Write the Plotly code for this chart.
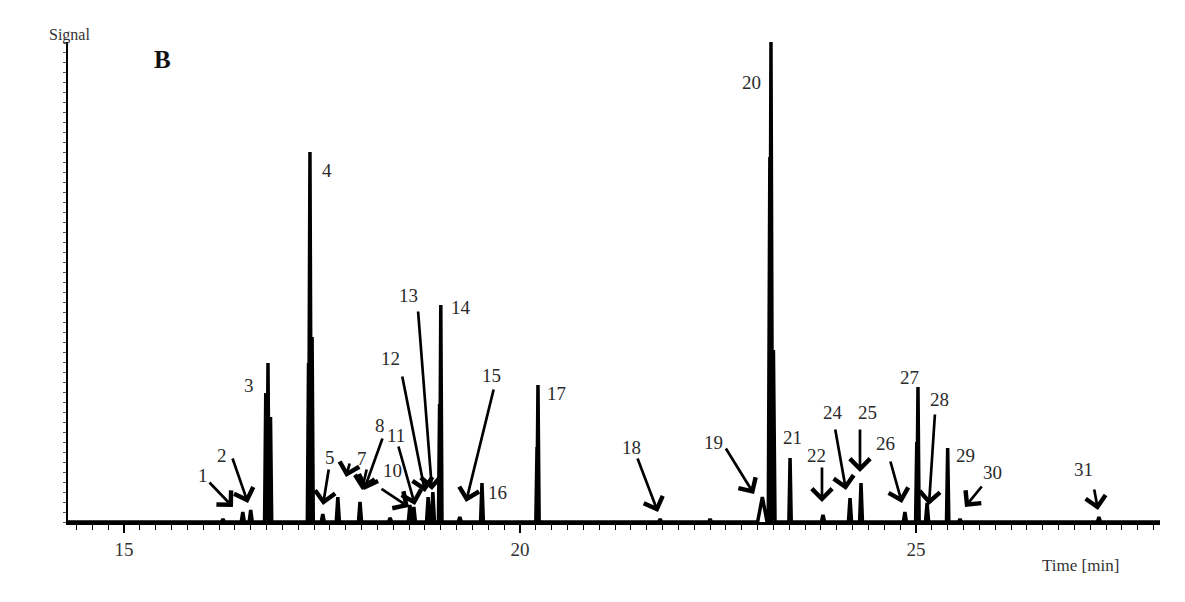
import plotly.graph_objects as go

# ---- data (retention time in min, signal in arbitrary units) ----
peak_time = [16.25, 16.50, 16.60, 16.79, 16.818, 16.85, 17.33, 17.348, 17.375, 17.51,
             17.70, 17.98, 18.36, 18.61, 18.66, 18.84, 18.90, 18.985, 19.00, 19.24,
             19.52, 20.215, 20.227, 21.77, 22.40, 23.06, 23.155, 23.169, 23.20, 23.41,
             23.826, 24.167, 24.306, 24.86, 25.01, 25.025, 25.14, 25.40, 25.556, 27.31]
peak_height = [3, 10, 12, 129, 159, 105, 159, 370, 185, 8,
               25, 20, 4, 17, 15, 25, 30, 118, 217, 5,
               39, 75, 137, 3, 3, 25, 365, 480, 172, 64,
               7, 24, 39, 10, 80, 135, 19, 74, 3, 5]
peak_width = [0.02, 0.02, 0.02, 0.015, 0.015, 0.015, 0.015, 0.018, 0.015, 0.02,
              0.02, 0.02, 0.02, 0.02, 0.02, 0.02, 0.02, 0.015, 0.015, 0.02,
              0.018, 0.015, 0.015, 0.02, 0.02, 0.06, 0.02, 0.02, 0.02, 0.015,
              0.02, 0.02, 0.018, 0.02, 0.015, 0.015, 0.02, 0.015, 0.02, 0.02]
time_range = [14.293, 28.081]
major_ticks = [15, 20, 25]

# peak labels: text, label position (time, signal)
label_text = ["1", "2", "3", "4", "5", "7", "8", "10", "11", "12", "13", "14", "15", "16",
              "17", "18", "19", "20", "21", "22", "24", "25", "26", "27", "28", "29", "30", "31"]
label_t = [15.997, 16.237, 16.578, 17.563, 17.601, 18.005, 18.232, 18.384, 18.434, 18.371,
           18.586, 19.255, 19.646, 19.722, 20.467, 21.414, 22.449, 22.929, 23.447, 23.750,
           23.952, 24.394, 24.621, 24.912, 25.303, 25.619, 25.960, 27.109]
label_s = [47, 67, 137, 352, 65, 64, 97, 52, 87, 164,
           227, 215, 147, 30, 129, 75, 80, 440, 85, 67,
           110, 110, 79, 145, 123, 67, 50, 53]

# arrows: tail (time, signal) -> head (time, signal)
arrow_tail_t = [16.061, 16.364, 17.588, 17.854, 18.068, 18.270, 18.232, 18.460, 18.510, 18.712,
                19.672, 21.477, 22.588, 23.813, 23.977, 24.293, 24.672, 25.240, 25.846, 27.247]
arrow_tail_s = [41, 65, 54, 60, 54, 85, 34, 77, 147, 212,
                134, 65, 75, 56, 94, 94, 62, 109, 37, 34]
arrow_head_t = [16.376, 16.566, 17.513, 17.803, 18.005, 18.030, 18.598, 18.674, 18.801, 18.889,
                19.318, 21.742, 22.955, 23.813, 24.116, 24.293, 24.823, 25.164, 25.619, 27.298]
arrow_head_s = [15, 19, 17, 45, 32, 32, 15, 17, 30, 32,
                20, 10, 28, 20, 32, 50, 19, 17, 15, 12]

# ---- build chromatogram trace from the peak table ----
xs, ys = [time_range[0]], [0]
for t, h, w in sorted(zip(peak_time, peak_height, peak_width)):
    xs += [t - w, t, t + w]
    ys += [0, h, 0]
xs.append(time_range[1])
ys.append(0)

fig = go.Figure()
fig.add_trace(go.Scatter(x=xs, y=ys, mode="lines",
                         line=dict(color="black", width=3.5), hoverinfo="skip",
                         showlegend=False))

serif = "Liberation Serif, Times New Roman, serif"
ann = []
for txt, t, s in zip(label_text, label_t, label_s):
    ann.append(dict(x=t, y=s, xref="x", yref="y", text=txt, showarrow=False,
                    font=dict(family=serif, size=19, color="#2a2a2a")))
for tt, ts, ht, hs in zip(arrow_tail_t, arrow_tail_s, arrow_head_t, arrow_head_s):
    ann.append(dict(x=ht, y=hs, ax=tt, ay=ts, xref="x", yref="y", axref="x", ayref="y",
                    text="", showarrow=True, arrowhead=4, arrowsize=1.45, arrowwidth=2.7,
                    arrowcolor="black", standoff=0, startstandoff=0))
ann.append(dict(x=47, y=24, xref="paper", yref="paper", text="Signal", showarrow=False,
                font=dict(family=serif, size=16, color="#333")))
ann.append(dict(x=152, y=44, xref="paper", yref="paper", text="<b>B</b>", showarrow=False,
                font=dict(family=serif, size=25, color="#111")))
ann.append(dict(x=1121, y=577, xref="paper", yref="paper", text="Time [min]", showarrow=False,
                font=dict(family=serif, size=17, color="#333")))

# convert the three pixel-placed texts to paper coordinates
L, R, T, B = 68, 25, 42, 80
W, H = 1185, 602
for a in ann[-3:]:
    a["x"] = (a["x"] - L) / (W - L - R)
    a["y"] = 1 - (a["y"] - T) / (H - T - B)

fig.update_layout(
    width=W, height=H, margin=dict(l=L, r=R, t=T, b=B),
    paper_bgcolor="white", plot_bgcolor="white",
    annotations=ann,
    xaxis=dict(range=time_range, showgrid=False, zeroline=False, showline=True,
               linecolor="black", linewidth=2.5, tickvals=major_ticks, ticks="outside",
               ticklen=8, tickwidth=1.5, tickcolor="black", ticklabelstandoff=0,
               tickfont=dict(family=serif, size=19, color="#333"),
               minor=dict(dtick=0.2, tick0=15, ticks="outside", ticklen=5,
                          tickwidth=1.2, tickcolor="black")),
    yaxis=dict(range=[0, 480], showgrid=False, zeroline=False, showline=True,
               linecolor="black", linewidth=2, ticks="outside", ticklen=3,
               dtick=10, tickwidth=1, tickcolor="#555", showticklabels=False),
)

fig.write_html("out.html")
